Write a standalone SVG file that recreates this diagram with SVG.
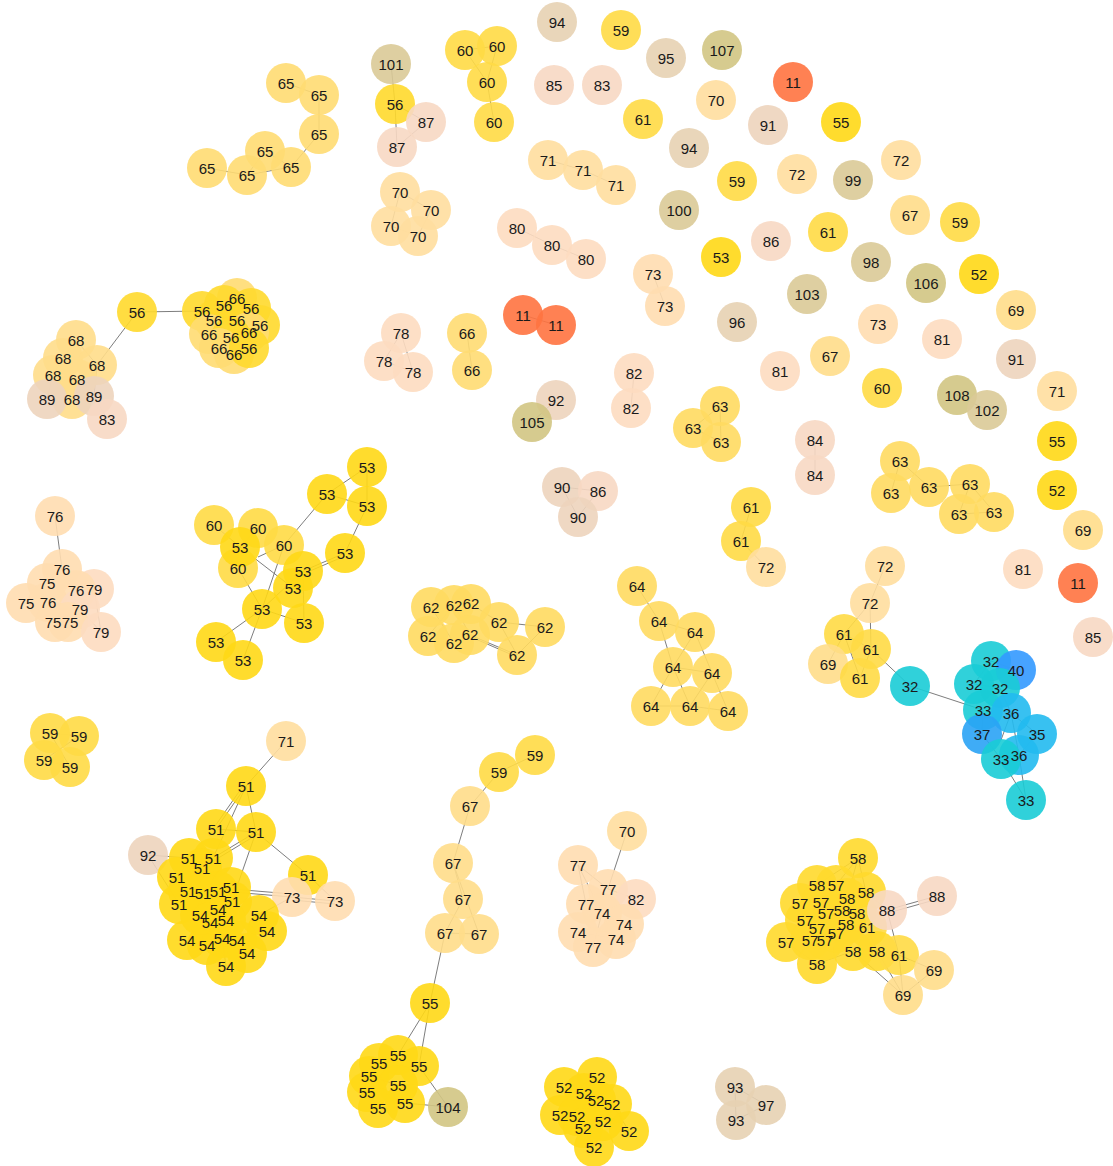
<svg xmlns="http://www.w3.org/2000/svg" width="1113" height="1166" viewBox="0 0 1113 1166">
<style>
.links line{stroke:#666;stroke-width:1;stroke-opacity:0.85}
.nodes circle{fill-opacity:0.9}
.labels text{font-family:"Liberation Sans",Arial,sans-serif;font-size:15px;fill:#1a1a1a;text-anchor:middle;dominant-baseline:central}
.a{fill:#FF7340}.b{fill:#1ACCD6}.c{fill:#22BAF0}.d{fill:#2AA3F5}.e{fill:#3399FF}
.g1{fill:#FFD816}.g2{fill:#FFD92C}.g3{fill:#FFDA45}.g4{fill:#FFDA60}.g5{fill:#FFDB72}.g6{fill:#FFDD8A}.g7{fill:#FFDE9E}
.p1{fill:#FFDDB0}.p2{fill:#FDDBC0}.p3{fill:#F7D8C3}.p4{fill:#EDD4BC}.p5{fill:#E7D2B3}.k1{fill:#DACA97}.k2{fill:#D2C583}
</style>
<rect width="1113" height="1166" fill="#fff"/>
<g class="links">
<line x1="465" y1="50" x2="487" y2="82"/><line x1="497" y1="46" x2="487" y2="82"/><line x1="487" y1="82" x2="494" y2="122"/><line x1="465" y1="50" x2="497" y2="46"/>
<line x1="391" y1="64" x2="395" y2="104"/><line x1="395" y1="104" x2="397" y2="147"/><line x1="426" y1="122" x2="397" y2="147"/><line x1="395" y1="104" x2="426" y2="122"/>
<line x1="548" y1="160" x2="583" y2="170"/><line x1="583" y1="170" x2="616" y2="185"/>
<line x1="286" y1="83" x2="319" y2="95"/><line x1="319" y1="95" x2="319" y2="134"/><line x1="319" y1="134" x2="291" y2="167"/><line x1="265" y1="151" x2="291" y2="167"/><line x1="247" y1="175" x2="265" y2="151"/><line x1="247" y1="175" x2="207" y2="168"/><line x1="247" y1="175" x2="291" y2="167"/>
<line x1="400" y1="192" x2="391" y2="226"/><line x1="400" y1="192" x2="431" y2="210"/><line x1="391" y1="226" x2="418" y2="236"/><line x1="431" y1="210" x2="418" y2="236"/>
<line x1="517" y1="228" x2="552" y2="245"/><line x1="552" y1="245" x2="586" y2="259"/>
<line x1="653" y1="274" x2="665" y2="306"/>
<line x1="523" y1="315" x2="556" y2="325"/>
<line x1="467" y1="333" x2="472" y2="370"/>
<line x1="401" y1="333" x2="384" y2="361"/><line x1="401" y1="333" x2="413" y2="372"/><line x1="384" y1="361" x2="413" y2="372"/>
<line x1="634" y1="373" x2="631" y2="408"/>
<line x1="556" y1="400" x2="532" y2="422"/>
<line x1="720" y1="406" x2="693" y2="428"/><line x1="720" y1="406" x2="721" y2="442"/><line x1="693" y1="428" x2="721" y2="442"/>
<line x1="957" y1="395" x2="987" y2="410"/>
<line x1="815" y1="440" x2="815" y2="475"/>
<line x1="900" y1="461" x2="891" y2="493"/><line x1="900" y1="461" x2="929" y2="487"/><line x1="929" y1="487" x2="970" y2="484"/><line x1="970" y1="484" x2="959" y2="514"/><line x1="970" y1="484" x2="994" y2="512"/><line x1="959" y1="514" x2="994" y2="512"/>
<line x1="562" y1="487" x2="598" y2="491"/><line x1="562" y1="487" x2="578" y2="517"/><line x1="598" y1="491" x2="578" y2="517"/>
<line x1="751" y1="507" x2="741" y2="541"/><line x1="741" y1="541" x2="766" y2="567"/>
<line x1="885" y1="566" x2="870" y2="603"/><line x1="870" y1="603" x2="844" y2="634"/><line x1="870" y1="603" x2="871" y2="649"/><line x1="844" y1="634" x2="871" y2="649"/><line x1="844" y1="634" x2="828" y2="664"/><line x1="844" y1="634" x2="860" y2="678"/><line x1="871" y1="649" x2="860" y2="678"/><line x1="871" y1="649" x2="910" y2="686"/>
<line x1="910" y1="686" x2="983" y2="710"/>
<line x1="991" y1="661" x2="974" y2="684"/><line x1="991" y1="661" x2="1016" y2="670"/><line x1="974" y1="684" x2="1000" y2="688"/><line x1="1000" y1="688" x2="1011" y2="713"/><line x1="983" y1="710" x2="982" y2="734"/><line x1="1011" y1="713" x2="1037" y2="734"/><line x1="1011" y1="713" x2="1001" y2="740"/><line x1="982" y1="734" x2="1001" y2="759"/><line x1="1001" y1="759" x2="1026" y2="800"/><line x1="1019" y1="755" x2="1026" y2="800"/><line x1="1037" y1="734" x2="1019" y2="755"/><line x1="1011" y1="713" x2="1019" y2="755"/>
<line x1="137" y1="312" x2="202" y2="311"/><line x1="137" y1="312" x2="97" y2="365"/>
<line x1="202" y1="311" x2="237" y2="320"/><line x1="237" y1="298" x2="224" y2="305"/><line x1="251" y1="308" x2="260" y2="325"/><line x1="214" y1="320" x2="231" y2="337"/><line x1="209" y1="334" x2="219" y2="348"/><line x1="249" y1="332" x2="249" y2="348"/><line x1="234" y1="354" x2="231" y2="337"/>
<line x1="76" y1="340" x2="63" y2="358"/><line x1="76" y1="340" x2="97" y2="365"/><line x1="63" y1="358" x2="53" y2="375"/><line x1="77" y1="379" x2="72" y2="399"/><line x1="97" y1="365" x2="94" y2="396"/><line x1="94" y1="396" x2="107" y2="419"/><line x1="47" y1="399" x2="53" y2="375"/>
<line x1="55" y1="516" x2="62" y2="569"/>
<line x1="62" y1="569" x2="47" y2="583"/><line x1="76" y1="590" x2="94" y2="589"/><line x1="80" y1="609" x2="101" y2="632"/><line x1="94" y1="589" x2="101" y2="632"/><line x1="48" y1="602" x2="55" y2="622"/>
<line x1="367" y1="467" x2="327" y2="494"/><line x1="327" y1="494" x2="367" y2="506"/><line x1="367" y1="467" x2="367" y2="506"/><line x1="367" y1="506" x2="345" y2="553"/><line x1="327" y1="494" x2="284" y2="545"/><line x1="345" y1="553" x2="303" y2="571"/><line x1="345" y1="556" x2="303" y2="574"/><line x1="240" y1="547" x2="293" y2="588"/><line x1="258" y1="557" x2="284" y2="545"/><line x1="284" y1="545" x2="262" y2="609"/><line x1="262" y1="609" x2="216" y2="642"/><line x1="262" y1="609" x2="243" y2="660"/><line x1="262" y1="609" x2="304" y2="623"/><line x1="262" y1="609" x2="303" y2="571"/><line x1="303" y1="571" x2="304" y2="623"/><line x1="238" y1="568" x2="262" y2="609"/><line x1="214" y1="525" x2="240" y2="547"/><line x1="258" y1="528" x2="240" y2="547"/>
<line x1="431" y1="607" x2="454" y2="643"/><line x1="454" y1="605" x2="428" y2="636"/><line x1="471" y1="604" x2="499" y2="622"/><line x1="499" y1="622" x2="545" y2="627"/><line x1="470" y1="635" x2="517" y2="655"/><line x1="471" y1="637" x2="517" y2="657"/><line x1="499" y1="622" x2="517" y2="655"/><line x1="545" y1="627" x2="517" y2="655"/><line x1="454" y1="605" x2="470" y2="635"/>
<line x1="637" y1="586" x2="659" y2="621"/><line x1="659" y1="621" x2="695" y2="632"/><line x1="659" y1="621" x2="673" y2="667"/><line x1="695" y1="632" x2="673" y2="667"/><line x1="695" y1="632" x2="712" y2="673"/><line x1="673" y1="667" x2="712" y2="673"/><line x1="673" y1="667" x2="651" y2="706"/><line x1="673" y1="667" x2="690" y2="706"/><line x1="712" y1="673" x2="690" y2="706"/><line x1="712" y1="673" x2="728" y2="711"/><line x1="651" y1="706" x2="690" y2="706"/><line x1="690" y1="706" x2="728" y2="711"/>
<line x1="50" y1="733" x2="79" y2="736"/><line x1="50" y1="733" x2="70" y2="767"/><line x1="44" y1="760" x2="79" y2="736"/><line x1="44" y1="760" x2="70" y2="767"/>
<line x1="286" y1="741" x2="246" y2="786"/>
<line x1="246" y1="786" x2="216" y2="829"/><line x1="243" y1="786" x2="213" y2="829"/><line x1="246" y1="786" x2="256" y2="832"/><line x1="246" y1="786" x2="213" y2="858"/><line x1="256" y1="832" x2="308" y2="875"/><line x1="256" y1="832" x2="213" y2="858"/><line x1="258" y1="834" x2="215" y2="860"/><line x1="216" y1="829" x2="256" y2="832"/><line x1="256" y1="832" x2="232" y2="901"/><line x1="148" y1="855" x2="189" y2="858"/><line x1="148" y1="855" x2="179" y2="904"/><line x1="308" y1="875" x2="335" y2="901"/><line x1="292" y1="897" x2="335" y2="901"/><line x1="292" y1="900" x2="335" y2="904"/><line x1="232" y1="889" x2="292" y2="894"/><line x1="232" y1="892" x2="292" y2="897"/><line x1="259" y1="915" x2="292" y2="897"/><line x1="218" y1="909" x2="226" y2="966"/><line x1="200" y1="915" x2="247" y2="953"/>
<line x1="535" y1="755" x2="499" y2="772"/><line x1="499" y1="772" x2="470" y2="806"/><line x1="470" y1="806" x2="453" y2="863"/><line x1="453" y1="863" x2="463" y2="899"/><line x1="453" y1="863" x2="479" y2="934"/><line x1="463" y1="899" x2="445" y2="933"/><line x1="445" y1="933" x2="479" y2="934"/><line x1="445" y1="933" x2="430" y2="1003"/>
<line x1="430" y1="1003" x2="398" y2="1055"/><line x1="430" y1="1003" x2="419" y2="1066"/><line x1="419" y1="1066" x2="448" y2="1107"/><line x1="405" y1="1103" x2="448" y2="1107"/><line x1="398" y1="1055" x2="379" y2="1063"/><line x1="398" y1="1085" x2="369" y2="1076"/><line x1="367" y1="1092" x2="378" y2="1108"/>
<line x1="627" y1="831" x2="608" y2="889"/><line x1="578" y1="865" x2="608" y2="889"/><line x1="578" y1="865" x2="586" y2="904"/><line x1="578" y1="865" x2="602" y2="913"/><line x1="608" y1="889" x2="636" y2="899"/><line x1="602" y1="913" x2="624" y2="924"/><line x1="602" y1="913" x2="593" y2="947"/><line x1="578" y1="932" x2="616" y2="939"/>
<line x1="597" y1="1077" x2="584" y2="1093"/><line x1="564" y1="1087" x2="596" y2="1100"/><line x1="612" y1="1104" x2="629" y2="1131"/><line x1="560" y1="1115" x2="603" y2="1121"/><line x1="583" y1="1128" x2="594" y2="1147"/>
<line x1="735" y1="1087" x2="766" y2="1105"/><line x1="766" y1="1105" x2="736" y2="1120"/><line x1="735" y1="1087" x2="736" y2="1120"/>
<line x1="858" y1="858" x2="817" y2="885"/><line x1="858" y1="858" x2="836" y2="885"/><line x1="858" y1="858" x2="866" y2="892"/><line x1="858" y1="858" x2="847" y2="898"/><line x1="887" y1="910" x2="937" y2="896"/><line x1="888" y1="913" x2="938" y2="899"/><line x1="887" y1="910" x2="899" y2="955"/><line x1="853" y1="951" x2="903" y2="995"/><line x1="877" y1="951" x2="903" y2="995"/><line x1="899" y1="955" x2="934" y2="970"/><line x1="899" y1="955" x2="903" y2="995"/><line x1="934" y1="970" x2="903" y2="995"/><line x1="786" y1="942" x2="817" y2="964"/><line x1="817" y1="964" x2="853" y2="951"/><line x1="867" y1="927" x2="877" y2="951"/><line x1="866" y1="892" x2="887" y2="910"/>
</g>
<g class="nodes">
<g id="n1"><circle class="p5" cx="557" cy="22" r="20"/></g>
<g id="n2"><circle class="g3" cx="621" cy="30" r="20"/></g>
<g id="n3"><circle class="p5" cx="666" cy="58" r="20"/></g>
<g id="n4"><circle class="k2" cx="722" cy="50" r="20"/></g>
<g id="n5"><circle class="g3" cx="465" cy="50" r="20"/></g>
<g id="n6"><circle class="g3" cx="497" cy="46" r="20"/></g>
<g id="n7"><circle class="g3" cx="487" cy="82" r="20"/></g>
<g id="n8"><circle class="g3" cx="494" cy="122" r="20"/></g>
<g id="n9"><circle class="k1" cx="391" cy="64" r="20"/></g>
<g id="n10"><circle class="g2" cx="395" cy="104" r="20"/></g>
<g id="n11"><circle class="p3" cx="426" cy="122" r="20"/></g>
<g id="n12"><circle class="p3" cx="397" cy="147" r="20"/></g>
<g id="n13"><circle class="p3" cx="554" cy="85" r="20"/></g>
<g id="n14"><circle class="p3" cx="602" cy="85" r="20"/></g>
<g id="n15"><circle class="a" cx="793" cy="82" r="20"/></g>
<g id="n16"><circle class="g7" cx="716" cy="100" r="20"/></g>
<g id="n17"><circle class="g3" cx="643" cy="119" r="20"/></g>
<g id="n18"><circle class="p4" cx="768" cy="125" r="20"/></g>
<g id="n19"><circle class="g1" cx="841" cy="122" r="20"/></g>
<g id="n20"><circle class="p5" cx="689" cy="148" r="20"/></g>
<g id="n21"><circle class="g7" cx="901" cy="160" r="20"/></g>
<g id="n22"><circle class="g7" cx="548" cy="160" r="20"/></g>
<g id="n23"><circle class="g7" cx="583" cy="170" r="20"/></g>
<g id="n24"><circle class="g7" cx="616" cy="185" r="20"/></g>
<g id="n25"><circle class="g3" cx="737" cy="181" r="20"/></g>
<g id="n26"><circle class="g7" cx="797" cy="174" r="20"/></g>
<g id="n27"><circle class="k1" cx="853" cy="180" r="20"/></g>
<g id="n28"><circle class="k1" cx="679" cy="210" r="20"/></g>
<g id="n29"><circle class="g6" cx="910" cy="215" r="20"/></g>
<g id="n30"><circle class="g3" cx="960" cy="222" r="20"/></g>
<g id="n31"><circle class="g5" cx="286" cy="83" r="20"/></g>
<g id="n32"><circle class="g5" cx="319" cy="95" r="20"/></g>
<g id="n33"><circle class="g5" cx="319" cy="134" r="20"/></g>
<g id="n34"><circle class="g5" cx="265" cy="151" r="20"/></g>
<g id="n35"><circle class="g5" cx="291" cy="167" r="20"/></g>
<g id="n36"><circle class="g5" cx="247" cy="175" r="20"/></g>
<g id="n37"><circle class="g5" cx="207" cy="168" r="20"/></g>
<g id="n38"><circle class="g7" cx="400" cy="192" r="20"/></g>
<g id="n39"><circle class="g7" cx="431" cy="210" r="20"/></g>
<g id="n40"><circle class="g7" cx="391" cy="226" r="20"/></g>
<g id="n41"><circle class="g7" cx="418" cy="236" r="20"/></g>
<g id="n42"><circle class="p2" cx="517" cy="228" r="20"/></g>
<g id="n43"><circle class="p2" cx="552" cy="245" r="20"/></g>
<g id="n44"><circle class="p2" cx="586" cy="259" r="20"/></g>
<g id="n45"><circle class="g1" cx="721" cy="257" r="20"/></g>
<g id="n46"><circle class="p3" cx="771" cy="241" r="20"/></g>
<g id="n47"><circle class="g3" cx="828" cy="232" r="20"/></g>
<g id="n48"><circle class="k1" cx="871" cy="262" r="20"/></g>
<g id="n49"><circle class="g1" cx="979" cy="274" r="20"/></g>
<g id="n50"><circle class="k2" cx="926" cy="283" r="20"/></g>
<g id="n51"><circle class="p1" cx="653" cy="274" r="20"/></g>
<g id="n52"><circle class="p1" cx="665" cy="306" r="20"/></g>
<g id="n53"><circle class="k1" cx="807" cy="294" r="20"/></g>
<g id="n54"><circle class="g6" cx="1016" cy="310" r="20"/></g>
<g id="n55"><circle class="p5" cx="737" cy="322" r="20"/></g>
<g id="n56"><circle class="a" cx="523" cy="315" r="20"/></g>
<g id="n57"><circle class="a" cx="556" cy="325" r="20"/></g>
<g id="n58"><circle class="p1" cx="878" cy="324" r="20"/></g>
<g id="n59"><circle class="p2" cx="942" cy="339" r="20"/></g>
<g id="n60"><circle class="g5" cx="467" cy="333" r="20"/></g>
<g id="n61"><circle class="g5" cx="472" cy="370" r="20"/></g>
<g id="n62"><circle class="p2" cx="401" cy="333" r="20"/></g>
<g id="n63"><circle class="p2" cx="384" cy="361" r="20"/></g>
<g id="n64"><circle class="p2" cx="413" cy="372" r="20"/></g>
<g id="n65"><circle class="g6" cx="830" cy="356" r="20"/></g>
<g id="n66"><circle class="p4" cx="1016" cy="359" r="20"/></g>
<g id="n67"><circle class="p2" cx="780" cy="371" r="20"/></g>
<g id="n68"><circle class="p2" cx="634" cy="373" r="20"/></g>
<g id="n69"><circle class="p2" cx="631" cy="408" r="20"/></g>
<g id="n70"><circle class="g3" cx="882" cy="388" r="20"/></g>
<g id="n71"><circle class="g7" cx="1057" cy="391" r="20"/></g>
<g id="n72"><circle class="k2" cx="957" cy="395" r="20"/></g>
<g id="n73"><circle class="k1" cx="987" cy="410" r="20"/></g>
<g id="n74"><circle class="p4" cx="556" cy="400" r="20"/></g>
<g id="n75"><circle class="k2" cx="532" cy="422" r="20"/></g>
<g id="n76"><circle class="g4" cx="720" cy="406" r="20"/></g>
<g id="n77"><circle class="g4" cx="693" cy="428" r="20"/></g>
<g id="n78"><circle class="g4" cx="721" cy="442" r="20"/></g>
<g id="n79"><circle class="p3" cx="815" cy="440" r="20"/></g>
<g id="n80"><circle class="p3" cx="815" cy="475" r="20"/></g>
<g id="n81"><circle class="g1" cx="1057" cy="441" r="20"/></g>
<g id="n82"><circle class="g4" cx="900" cy="461" r="20"/></g>
<g id="n83"><circle class="g4" cx="891" cy="493" r="20"/></g>
<g id="n84"><circle class="g4" cx="929" cy="487" r="20"/></g>
<g id="n85"><circle class="g4" cx="970" cy="484" r="20"/></g>
<g id="n86"><circle class="g4" cx="959" cy="514" r="20"/></g>
<g id="n87"><circle class="g4" cx="994" cy="512" r="20"/></g>
<g id="n88"><circle class="g1" cx="1057" cy="490" r="20"/></g>
<g id="n89"><circle class="p4" cx="562" cy="487" r="20"/></g>
<g id="n90"><circle class="p3" cx="598" cy="491" r="20"/></g>
<g id="n91"><circle class="p4" cx="578" cy="517" r="20"/></g>
<g id="n92"><circle class="g3" cx="751" cy="507" r="20"/></g>
<g id="n93"><circle class="g3" cx="741" cy="541" r="20"/></g>
<g id="n94"><circle class="g7" cx="766" cy="567" r="20"/></g>
<g id="n95"><circle class="g6" cx="1083" cy="530" r="20"/></g>
<g id="n96"><circle class="p2" cx="1023" cy="569" r="20"/></g>
<g id="n97"><circle class="a" cx="1078" cy="583" r="20"/></g>
<g id="n98"><circle class="p3" cx="1093" cy="637" r="20"/></g>
<g id="n99"><circle class="g7" cx="885" cy="566" r="20"/></g>
<g id="n100"><circle class="g7" cx="870" cy="603" r="20"/></g>
<g id="n101"><circle class="g3" cx="844" cy="634" r="20"/></g>
<g id="n102"><circle class="g3" cx="871" cy="649" r="20"/></g>
<g id="n103"><circle class="g6" cx="828" cy="664" r="20"/></g>
<g id="n104"><circle class="g3" cx="860" cy="678" r="20"/></g>
<g id="n105"><circle class="b" cx="910" cy="686" r="20"/></g>
<g id="n106"><circle class="b" cx="991" cy="661" r="20"/></g>
<g id="n107"><circle class="e" cx="1016" cy="670" r="20"/></g>
<g id="n108"><circle class="b" cx="974" cy="684" r="20"/></g>
<g id="n109"><circle class="b" cx="1000" cy="688" r="20"/></g>
<g id="n110"><circle class="b" cx="983" cy="710" r="20"/></g>
<g id="n111"><circle class="c" cx="1011" cy="713" r="20"/></g>
<g id="n112"><circle class="d" cx="982" cy="734" r="20"/></g>
<g id="n113"><circle class="c" cx="1037" cy="734" r="20"/></g>
<g id="n114"><circle class="c" cx="1019" cy="755" r="20"/></g>
<g id="n115"><circle class="b" cx="1001" cy="759" r="20"/></g>
<g id="n116"><circle class="b" cx="1026" cy="800" r="20"/></g>
<g id="n117"><circle class="g2" cx="137" cy="312" r="20"/></g>
<g id="n118"><circle class="g5" cx="237" cy="298" r="20"/></g>
<g id="n119"><circle class="g2" cx="202" cy="311" r="20"/></g>
<g id="n120"><circle class="g2" cx="224" cy="305" r="20"/></g>
<g id="n121"><circle class="g2" cx="251" cy="308" r="20"/></g>
<g id="n122"><circle class="g2" cx="260" cy="325" r="20"/></g>
<g id="n123"><circle class="g2" cx="214" cy="320" r="20"/></g>
<g id="n124"><circle class="g2" cx="237" cy="320" r="20"/></g>
<g id="n125"><circle class="g5" cx="209" cy="334" r="20"/></g>
<g id="n126"><circle class="g5" cx="249" cy="332" r="20"/></g>
<g id="n127"><circle class="g2" cx="231" cy="337" r="20"/></g>
<g id="n128"><circle class="g5" cx="219" cy="348" r="20"/></g>
<g id="n129"><circle class="g5" cx="234" cy="354" r="20"/></g>
<g id="n130"><circle class="g2" cx="249" cy="348" r="20"/></g>
<g id="n131"><circle class="g6" cx="76" cy="340" r="20"/></g>
<g id="n132"><circle class="g6" cx="63" cy="358" r="20"/></g>
<g id="n133"><circle class="g6" cx="97" cy="365" r="20"/></g>
<g id="n134"><circle class="g6" cx="53" cy="375" r="20"/></g>
<g id="n135"><circle class="g6" cx="77" cy="379" r="20"/></g>
<g id="n136"><circle class="g6" cx="72" cy="399" r="20"/></g>
<g id="n137"><circle class="p4" cx="47" cy="399" r="20"/></g>
<g id="n138"><circle class="p4" cx="94" cy="396" r="20"/></g>
<g id="n139"><circle class="p3" cx="107" cy="419" r="20"/></g>
<g id="n140"><circle class="p1" cx="55" cy="516" r="20"/></g>
<g id="n141"><circle class="p1" cx="62" cy="569" r="20"/></g>
<g id="n142"><circle class="p1" cx="47" cy="583" r="20"/></g>
<g id="n143"><circle class="p2" cx="94" cy="589" r="20"/></g>
<g id="n144"><circle class="p1" cx="76" cy="590" r="20"/></g>
<g id="n145"><circle class="p1" cx="26" cy="603" r="20"/></g>
<g id="n146"><circle class="p1" cx="48" cy="602" r="20"/></g>
<g id="n147"><circle class="p2" cx="80" cy="609" r="20"/></g>
<g id="n148"><circle class="p1" cx="55" cy="622" r="20"/></g>
<g id="n149"><circle class="p1" cx="68" cy="622" r="20"/></g>
<g id="n150"><circle class="p2" cx="101" cy="632" r="20"/></g>
<g id="n151"><circle class="g1" cx="367" cy="467" r="20"/></g>
<g id="n152"><circle class="g1" cx="327" cy="494" r="20"/></g>
<g id="n153"><circle class="g1" cx="367" cy="506" r="20"/></g>
<g id="n154"><circle class="g3" cx="214" cy="525" r="20"/></g>
<g id="n155"><circle class="g3" cx="258" cy="528" r="20"/></g>
<g id="n156"><circle class="g3" cx="238" cy="568" r="20"/></g>
<g id="n157"><circle class="g1" cx="240" cy="547" r="20"/></g>
<g id="n158"><circle class="g3" cx="284" cy="545" r="20"/></g>
<g id="n159"><circle class="g1" cx="345" cy="553" r="20"/></g>
<g id="n160"><circle class="g1" cx="303" cy="571" r="20"/></g>
<g id="n161"><circle class="g1" cx="293" cy="588" r="20"/></g>
<g id="n162"><circle class="g1" cx="262" cy="609" r="20"/></g>
<g id="n163"><circle class="g1" cx="304" cy="623" r="20"/></g>
<g id="n164"><circle class="g1" cx="216" cy="642" r="20"/></g>
<g id="n165"><circle class="g1" cx="243" cy="660" r="20"/></g>
<g id="n166"><circle class="g4" cx="431" cy="607" r="20"/></g>
<g id="n167"><circle class="g4" cx="454" cy="605" r="20"/></g>
<g id="n168"><circle class="g4" cx="471" cy="604" r="20"/></g>
<g id="n169"><circle class="g4" cx="499" cy="622" r="20"/></g>
<g id="n170"><circle class="g4" cx="545" cy="627" r="20"/></g>
<g id="n171"><circle class="g4" cx="428" cy="636" r="20"/></g>
<g id="n172"><circle class="g4" cx="454" cy="643" r="20"/></g>
<g id="n173"><circle class="g4" cx="470" cy="635" r="20"/></g>
<g id="n174"><circle class="g4" cx="517" cy="655" r="20"/></g>
<g id="n175"><circle class="g4" cx="637" cy="586" r="20"/></g>
<g id="n176"><circle class="g4" cx="659" cy="621" r="20"/></g>
<g id="n177"><circle class="g4" cx="695" cy="632" r="20"/></g>
<g id="n178"><circle class="g4" cx="673" cy="667" r="20"/></g>
<g id="n179"><circle class="g4" cx="712" cy="673" r="20"/></g>
<g id="n180"><circle class="g4" cx="651" cy="706" r="20"/></g>
<g id="n181"><circle class="g4" cx="690" cy="706" r="20"/></g>
<g id="n182"><circle class="g4" cx="728" cy="711" r="20"/></g>
<g id="n183"><circle class="g3" cx="50" cy="733" r="20"/></g>
<g id="n184"><circle class="g3" cx="79" cy="736" r="20"/></g>
<g id="n185"><circle class="g3" cx="44" cy="760" r="20"/></g>
<g id="n186"><circle class="g3" cx="70" cy="767" r="20"/></g>
<g id="n187"><circle class="g7" cx="286" cy="741" r="20"/></g>
<g id="n188"><circle class="g1" cx="246" cy="786" r="20"/></g>
<g id="n189"><circle class="g1" cx="216" cy="829" r="20"/></g>
<g id="n190"><circle class="g1" cx="256" cy="832" r="20"/></g>
<g id="n191"><circle class="p4" cx="148" cy="855" r="20"/></g>
<g id="n192"><circle class="g1" cx="308" cy="875" r="20"/></g>
<g id="n193"><circle class="p1" cx="292" cy="897" r="20"/></g>
<g id="n194"><circle class="p1" cx="335" cy="901" r="20"/></g>
<g id="n195"><circle class="g1" cx="189" cy="858" r="20"/></g>
<g id="n196"><circle class="g1" cx="213" cy="858" r="20"/></g>
<g id="n197"><circle class="g1" cx="202" cy="868" r="20"/></g>
<g id="n198"><circle class="g1" cx="177" cy="877" r="20"/></g>
<g id="n199"><circle class="g1" cx="188" cy="891" r="20"/></g>
<g id="n200"><circle class="g1" cx="203" cy="893" r="20"/></g>
<g id="n201"><circle class="g1" cx="218" cy="891" r="20"/></g>
<g id="n202"><circle class="g1" cx="231" cy="887" r="20"/></g>
<g id="n203"><circle class="g1" cx="232" cy="901" r="20"/></g>
<g id="n204"><circle class="g1" cx="179" cy="904" r="20"/></g>
<g id="n205"><circle class="g1" cx="259" cy="915" r="20"/></g>
<g id="n206"><circle class="g1" cx="267" cy="931" r="20"/></g>
<g id="n207"><circle class="g1" cx="187" cy="940" r="20"/></g>
<g id="n208"><circle class="g1" cx="207" cy="945" r="20"/></g>
<g id="n209"><circle class="g1" cx="222" cy="938" r="20"/></g>
<g id="n210"><circle class="g1" cx="237" cy="940" r="20"/></g>
<g id="n211"><circle class="g1" cx="247" cy="953" r="20"/></g>
<g id="n212"><circle class="g1" cx="226" cy="966" r="20"/></g>
<g id="n213"><circle class="g1" cx="218" cy="909" r="20"/></g>
<g id="n214"><circle class="g1" cx="200" cy="915" r="20"/></g>
<g id="n215"><circle class="g1" cx="210" cy="922" r="20"/></g>
<g id="n216"><circle class="g1" cx="226" cy="920" r="20"/></g>
<g id="n217"><circle class="g3" cx="535" cy="755" r="20"/></g>
<g id="n218"><circle class="g3" cx="499" cy="772" r="20"/></g>
<g id="n219"><circle class="g6" cx="470" cy="806" r="20"/></g>
<g id="n220"><circle class="g6" cx="453" cy="863" r="20"/></g>
<g id="n221"><circle class="g6" cx="463" cy="899" r="20"/></g>
<g id="n222"><circle class="g6" cx="445" cy="933" r="20"/></g>
<g id="n223"><circle class="g6" cx="479" cy="934" r="20"/></g>
<g id="n224"><circle class="g1" cx="430" cy="1003" r="20"/></g>
<g id="n225"><circle class="g1" cx="398" cy="1055" r="20"/></g>
<g id="n226"><circle class="g1" cx="379" cy="1063" r="20"/></g>
<g id="n227"><circle class="g1" cx="419" cy="1066" r="20"/></g>
<g id="n228"><circle class="g1" cx="369" cy="1076" r="20"/></g>
<g id="n229"><circle class="g1" cx="398" cy="1085" r="20"/></g>
<g id="n230"><circle class="g1" cx="367" cy="1092" r="20"/></g>
<g id="n231"><circle class="g1" cx="405" cy="1103" r="20"/></g>
<g id="n232"><circle class="g1" cx="378" cy="1108" r="20"/></g>
<g id="n233"><circle class="k2" cx="448" cy="1107" r="20"/></g>
<g id="n234"><circle class="g7" cx="627" cy="831" r="20"/></g>
<g id="n235"><circle class="p1" cx="578" cy="865" r="20"/></g>
<g id="n236"><circle class="p1" cx="608" cy="889" r="20"/></g>
<g id="n237"><circle class="p2" cx="636" cy="899" r="20"/></g>
<g id="n238"><circle class="p1" cx="586" cy="904" r="20"/></g>
<g id="n239"><circle class="p1" cx="602" cy="913" r="20"/></g>
<g id="n240"><circle class="p1" cx="624" cy="924" r="20"/></g>
<g id="n241"><circle class="p1" cx="578" cy="932" r="20"/></g>
<g id="n242"><circle class="p1" cx="616" cy="939" r="20"/></g>
<g id="n243"><circle class="p1" cx="593" cy="947" r="20"/></g>
<g id="n244"><circle class="g1" cx="597" cy="1077" r="20"/></g>
<g id="n245"><circle class="g1" cx="564" cy="1087" r="20"/></g>
<g id="n246"><circle class="g1" cx="584" cy="1093" r="20"/></g>
<g id="n247"><circle class="g1" cx="596" cy="1100" r="20"/></g>
<g id="n248"><circle class="g1" cx="612" cy="1104" r="20"/></g>
<g id="n249"><circle class="g1" cx="560" cy="1115" r="20"/></g>
<g id="n250"><circle class="g1" cx="577" cy="1116" r="20"/></g>
<g id="n251"><circle class="g1" cx="603" cy="1121" r="20"/></g>
<g id="n252"><circle class="g1" cx="583" cy="1128" r="20"/></g>
<g id="n253"><circle class="g1" cx="629" cy="1131" r="20"/></g>
<g id="n254"><circle class="g1" cx="594" cy="1147" r="20"/></g>
<g id="n255"><circle class="p5" cx="735" cy="1087" r="20"/></g>
<g id="n256"><circle class="p5" cx="766" cy="1105" r="20"/></g>
<g id="n257"><circle class="p5" cx="736" cy="1120" r="20"/></g>
<g id="n258"><circle class="g2" cx="858" cy="858" r="20"/></g>
<g id="n259"><circle class="g2" cx="817" cy="885" r="20"/></g>
<g id="n260"><circle class="g2" cx="836" cy="885" r="20"/></g>
<g id="n261"><circle class="g2" cx="866" cy="892" r="20"/></g>
<g id="n262"><circle class="g2" cx="800" cy="903" r="20"/></g>
<g id="n263"><circle class="g2" cx="821" cy="902" r="20"/></g>
<g id="n264"><circle class="g2" cx="847" cy="898" r="20"/></g>
<g id="n265"><circle class="g2" cx="826" cy="913" r="20"/></g>
<g id="n266"><circle class="g2" cx="842" cy="910" r="20"/></g>
<g id="n267"><circle class="g2" cx="857" cy="913" r="20"/></g>
<g id="n268"><circle class="g2" cx="805" cy="920" r="20"/></g>
<g id="n269"><circle class="g3" cx="867" cy="927" r="20"/></g>
<g id="n270"><circle class="g2" cx="846" cy="924" r="20"/></g>
<g id="n271"><circle class="g2" cx="817" cy="928" r="20"/></g>
<g id="n272"><circle class="g2" cx="836" cy="933" r="20"/></g>
<g id="n273"><circle class="g2" cx="786" cy="942" r="20"/></g>
<g id="n274"><circle class="g2" cx="810" cy="940" r="20"/></g>
<g id="n275"><circle class="g2" cx="825" cy="940" r="20"/></g>
<g id="n276"><circle class="g2" cx="853" cy="951" r="20"/></g>
<g id="n277"><circle class="g2" cx="877" cy="951" r="20"/></g>
<g id="n278"><circle class="g2" cx="817" cy="964" r="20"/></g>
<g id="n279"><circle class="p3" cx="887" cy="910" r="20"/></g>
<g id="n280"><circle class="p3" cx="937" cy="896" r="20"/></g>
<g id="n281"><circle class="g3" cx="899" cy="955" r="20"/></g>
<g id="n282"><circle class="g6" cx="934" cy="970" r="20"/></g>
<g id="n283"><circle class="g6" cx="903" cy="995" r="20"/></g>
</g>
<g class="labels">
<text x="557" y="22">94</text><text x="621" y="30">59</text><text x="666" y="58">95</text><text x="722" y="50">107</text>
<text x="465" y="50">60</text><text x="497" y="46">60</text><text x="487" y="82">60</text><text x="494" y="122">60</text>
<text x="391" y="64">101</text><text x="395" y="104">56</text><text x="426" y="122">87</text><text x="397" y="147">87</text>
<text x="554" y="85">85</text><text x="602" y="85">83</text><text x="793" y="82">11</text><text x="716" y="100">70</text>
<text x="643" y="119">61</text><text x="768" y="125">91</text><text x="841" y="122">55</text><text x="689" y="148">94</text>
<text x="901" y="160">72</text><text x="548" y="160">71</text><text x="583" y="170">71</text><text x="616" y="185">71</text>
<text x="737" y="181">59</text><text x="797" y="174">72</text><text x="853" y="180">99</text><text x="679" y="210">100</text>
<text x="910" y="215">67</text><text x="960" y="222">59</text>
<text x="286" y="83">65</text><text x="319" y="95">65</text><text x="319" y="134">65</text><text x="265" y="151">65</text><text x="291" y="167">65</text><text x="247" y="175">65</text><text x="207" y="168">65</text>
<text x="400" y="192">70</text><text x="431" y="210">70</text><text x="391" y="226">70</text><text x="418" y="236">70</text>
<text x="517" y="228">80</text><text x="552" y="245">80</text><text x="586" y="259">80</text>
<text x="721" y="257">53</text><text x="771" y="241">86</text><text x="828" y="232">61</text><text x="871" y="262">98</text>
<text x="979" y="274">52</text><text x="926" y="283">106</text><text x="653" y="274">73</text><text x="665" y="306">73</text>
<text x="807" y="294">103</text><text x="1016" y="310">69</text><text x="737" y="322">96</text>
<text x="523" y="315">11</text><text x="556" y="325">11</text><text x="878" y="324">73</text><text x="942" y="339">81</text>
<text x="467" y="333">66</text><text x="472" y="370">66</text><text x="401" y="333">78</text><text x="384" y="361">78</text><text x="413" y="372">78</text>
<text x="830" y="356">67</text><text x="1016" y="359">91</text><text x="780" y="371">81</text><text x="634" y="373">82</text><text x="631" y="408">82</text>
<text x="882" y="388">60</text><text x="1057" y="391">71</text><text x="957" y="395">108</text><text x="987" y="410">102</text>
<text x="556" y="400">92</text><text x="532" y="422">105</text>
<text x="720" y="406">63</text><text x="693" y="428">63</text><text x="721" y="442">63</text>
<text x="815" y="440">84</text><text x="815" y="475">84</text><text x="1057" y="441">55</text>
<text x="900" y="461">63</text><text x="891" y="493">63</text><text x="929" y="487">63</text><text x="970" y="484">63</text><text x="959" y="514">63</text><text x="994" y="512">63</text>
<text x="1057" y="490">52</text><text x="562" y="487">90</text><text x="598" y="491">86</text><text x="578" y="517">90</text>
<text x="751" y="507">61</text><text x="741" y="541">61</text><text x="766" y="567">72</text>
<text x="1083" y="530">69</text><text x="1023" y="569">81</text><text x="1078" y="583">11</text><text x="1093" y="637">85</text>
<text x="885" y="566">72</text><text x="870" y="603">72</text><text x="844" y="634">61</text><text x="871" y="649">61</text><text x="828" y="664">69</text><text x="860" y="678">61</text>
<text x="910" y="686">32</text><text x="991" y="661">32</text><text x="1016" y="670">40</text><text x="974" y="684">32</text><text x="1000" y="688">32</text>
<text x="983" y="710">33</text><text x="1011" y="713">36</text><text x="982" y="734">37</text><text x="1037" y="734">35</text><text x="1019" y="755">36</text><text x="1001" y="759">33</text><text x="1026" y="800">33</text>
<text x="137" y="312">56</text><text x="237" y="298">66</text><text x="202" y="311">56</text><text x="224" y="305">56</text><text x="251" y="308">56</text><text x="260" y="325">56</text><text x="214" y="320">56</text><text x="237" y="320">56</text>
<text x="209" y="334">66</text><text x="249" y="332">66</text><text x="231" y="337">56</text><text x="219" y="348">66</text><text x="234" y="354">66</text><text x="249" y="348">56</text>
<text x="76" y="340">68</text><text x="63" y="358">68</text><text x="97" y="365">68</text><text x="53" y="375">68</text><text x="77" y="379">68</text><text x="72" y="399">68</text>
<text x="47" y="399">89</text><text x="94" y="396">89</text><text x="107" y="419">83</text>
<text x="55" y="516">76</text><text x="62" y="569">76</text><text x="47" y="583">75</text><text x="94" y="589">79</text><text x="76" y="590">76</text>
<text x="26" y="603">75</text><text x="48" y="602">76</text><text x="80" y="609">79</text><text x="53" y="622">75</text><text x="70" y="622">75</text><text x="101" y="632">79</text>
<text x="367" y="467">53</text><text x="327" y="494">53</text><text x="367" y="506">53</text><text x="214" y="525">60</text><text x="258" y="528">60</text>
<text x="238" y="568">60</text><text x="240" y="547">53</text><text x="284" y="545">60</text><text x="345" y="553">53</text><text x="303" y="571">53</text>
<text x="293" y="588">53</text><text x="262" y="609">53</text><text x="304" y="623">53</text><text x="216" y="642">53</text><text x="243" y="660">53</text>
<text x="431" y="607">62</text><text x="454" y="605">62</text><text x="471" y="603">62</text><text x="499" y="622">62</text><text x="545" y="627">62</text>
<text x="428" y="636">62</text><text x="454" y="643">62</text><text x="470" y="634">62</text><text x="517" y="655">62</text>
<text x="637" y="586">64</text><text x="659" y="621">64</text><text x="695" y="632">64</text><text x="673" y="667">64</text><text x="712" y="673">64</text>
<text x="651" y="706">64</text><text x="690" y="706">64</text><text x="728" y="711">64</text>
<text x="50" y="733">59</text><text x="79" y="736">59</text><text x="44" y="760">59</text><text x="70" y="767">59</text>
<text x="286" y="741">71</text><text x="246" y="786">51</text><text x="216" y="829">51</text><text x="256" y="832">51</text><text x="148" y="855">92</text>
<text x="308" y="875">51</text><text x="292" y="897">73</text><text x="335" y="901">73</text>
<text x="189" y="858">51</text><text x="213" y="858">51</text><text x="202" y="868">51</text><text x="177" y="877">51</text>
<text x="188" y="891">51</text><text x="203" y="893">51</text><text x="218" y="891">51</text><text x="231" y="887">51</text><text x="232" y="901">51</text><text x="179" y="904">51</text>
<text x="259" y="915">54</text><text x="267" y="931">54</text><text x="187" y="940">54</text><text x="207" y="945">54</text><text x="222" y="938">54</text>
<text x="237" y="940">54</text><text x="247" y="953">54</text><text x="226" y="966">54</text><text x="218" y="909">54</text><text x="200" y="915">54</text>
<text x="210" y="922">54</text><text x="226" y="920">54</text>
<text x="535" y="755">59</text><text x="499" y="772">59</text><text x="470" y="806">67</text><text x="453" y="863">67</text>
<text x="463" y="899">67</text><text x="445" y="933">67</text><text x="479" y="934">67</text>
<text x="430" y="1003">55</text><text x="398" y="1055">55</text><text x="379" y="1063">55</text><text x="419" y="1066">55</text>
<text x="369" y="1076">55</text><text x="398" y="1085">55</text><text x="367" y="1092">55</text><text x="405" y="1103">55</text><text x="378" y="1108">55</text><text x="448" y="1107">104</text>
<text x="627" y="831">70</text><text x="578" y="865">77</text><text x="608" y="889">77</text><text x="636" y="899">82</text><text x="586" y="904">77</text>
<text x="602" y="913">74</text><text x="624" y="924">74</text><text x="578" y="932">74</text><text x="616" y="939">74</text><text x="593" y="947">77</text>
<text x="597" y="1077">52</text><text x="564" y="1087">52</text><text x="584" y="1093">52</text><text x="596" y="1100">52</text><text x="612" y="1104">52</text>
<text x="560" y="1115">52</text><text x="577" y="1116">52</text><text x="603" y="1121">52</text><text x="583" y="1128">52</text><text x="629" y="1131">52</text><text x="594" y="1147">52</text>
<text x="735" y="1087">93</text><text x="766" y="1105">97</text><text x="736" y="1120">93</text>
<text x="858" y="858">58</text><text x="817" y="885">58</text><text x="836" y="885">57</text><text x="866" y="892">58</text><text x="800" y="903">57</text>
<text x="821" y="902">57</text><text x="847" y="898">58</text><text x="826" y="913">57</text><text x="842" y="910">58</text><text x="857" y="913">58</text>
<text x="805" y="920">57</text><text x="867" y="927">61</text><text x="846" y="924">58</text><text x="817" y="928">57</text><text x="836" y="933">57</text>
<text x="786" y="942">57</text><text x="810" y="940">57</text><text x="825" y="940">57</text><text x="853" y="951">58</text><text x="877" y="951">58</text>
<text x="817" y="964">58</text><text x="887" y="910">88</text><text x="937" y="896">88</text><text x="899" y="955">61</text><text x="934" y="970">69</text><text x="903" y="995">69</text>
</g>
</svg>
